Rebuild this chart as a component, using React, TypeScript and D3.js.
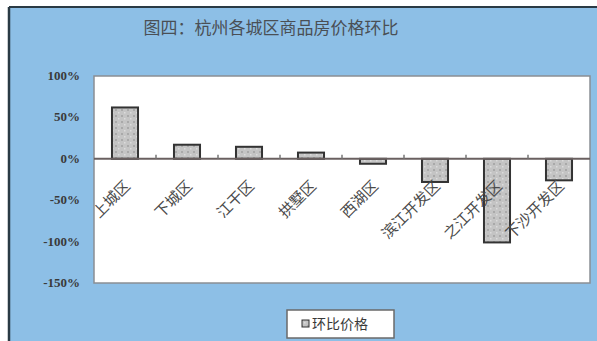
import React from "react";
import * as d3 from "d3";

const title = "图四：杭州各城区商品房价格环比";
const categories = ["上城区", "下城区", "江干区", "拱墅区", "西湖区", "滨江开发区", "之江开发区", "下沙开发区"];
const values = [62, 17, 14.5, 7.5, -6, -28, -101, -26];
const yTicks = [100, 50, 0, -50, -100, -150];
const legendLabel = "环比价格";

const W = 597;
const H = 341;
const plot = { left: 94, right: 590, top: 76, bottom: 283 };

export default function App() {
  const x = d3.scaleBand<string>().domain(categories).range([plot.left, plot.right]).paddingInner(0.58).paddingOuter(0.29);
  const xb = d3.scaleBand<string>().domain(categories).range([plot.left, plot.right]);
  const y = d3.scaleLinear().domain([-150, 100]).range([plot.bottom, plot.top]);
  const y0 = y(0);
  const serif = "'Liberation Serif', 'DejaVu Serif', serif";
  const cjk = "'Noto Sans CJK SC', sans-serif";
  return (
    <svg width={W} height={H} style={{ position: "absolute", left: 0, top: 0 }} xmlns="http://www.w3.org/2000/svg">
      <defs>
        <pattern id="dots" width="6" height="6" patternUnits="userSpaceOnUse">
          <rect width="6" height="6" fill="#c4c4c4" />
          <rect x="1" y="1" width="2" height="2" fill="#a9a9a9" />
          <rect x="4" y="4" width="1.5" height="1.5" fill="#dcdcdc" />
        </pattern>
      </defs>
      <rect x={0} y={0} width={W} height={H} fill="#ffffff" />
      <rect x={9} y={7} width={W - 9} height={H - 7} fill="#8dbfe6" />
      <line x1={9} y1={7} x2={W} y2={7} stroke="#2a3a44" strokeWidth={2} />
      <line x1={9} y1={7} x2={9} y2={H} stroke="#2a3a44" strokeWidth={2.5} />
      <text x={271} y={34} textAnchor="middle" fontFamily={cjk} fontSize={17} fill="#4a4f55">{title}</text>
      <rect x={plot.left} y={plot.top} width={plot.right - plot.left} height={plot.bottom - plot.top} fill="#ffffff" stroke="#8a8f94" strokeWidth={1.5} />
      {yTicks.map((t) => (
        <text key={t} x={80} y={y(t) + 4} textAnchor="end" fontFamily={serif} fontWeight="bold" fontSize={13} fill="#3a3a3a">
          {t + "%"}
        </text>
      ))}
      {categories.map((c, i) => {
        const v = values[i];
        const top = Math.min(y(v), y0);
        const h = Math.abs(y(v) - y0);
        return (
          <rect key={c} x={x(c)} y={top} width={x.bandwidth()} height={h} fill="url(#dots)" stroke="#333" strokeWidth={2} />
        );
      })}
      <line x1={plot.left} y1={y0} x2={plot.right} y2={y0} stroke="#6a6060" strokeWidth={2} />
      {categories.slice(1).map((c) => (
        <line key={c} x1={xb(c)} y1={y0} x2={xb(c)} y2={y0 - 4} stroke="#777" strokeWidth={1.5} />
      ))}
      {categories.map((c) => {
        const cx = (xb(c) as number) + xb.bandwidth() / 2 + 6;
        const cy = y0 + 28;
        return (
          <text key={c} x={cx} y={cy} transform={`rotate(-45, ${cx}, ${cy})`} textAnchor="end" fontFamily={cjk} fontSize={15} fill="#4a4a4a">
            {c}
          </text>
        );
      })}
      <rect x={287} y={310} width={107} height={28} fill="#ffffff" stroke="#6a6a6a" strokeWidth={1.5} />
      <rect x={302} y={320} width={7} height={7} fill="url(#dots)" stroke="#333" strokeWidth={1} />
      <text x={312} y={329} fontFamily={cjk} fontSize={14} fill="#3a3a3a">{legendLabel}</text>
    </svg>
  );
}
